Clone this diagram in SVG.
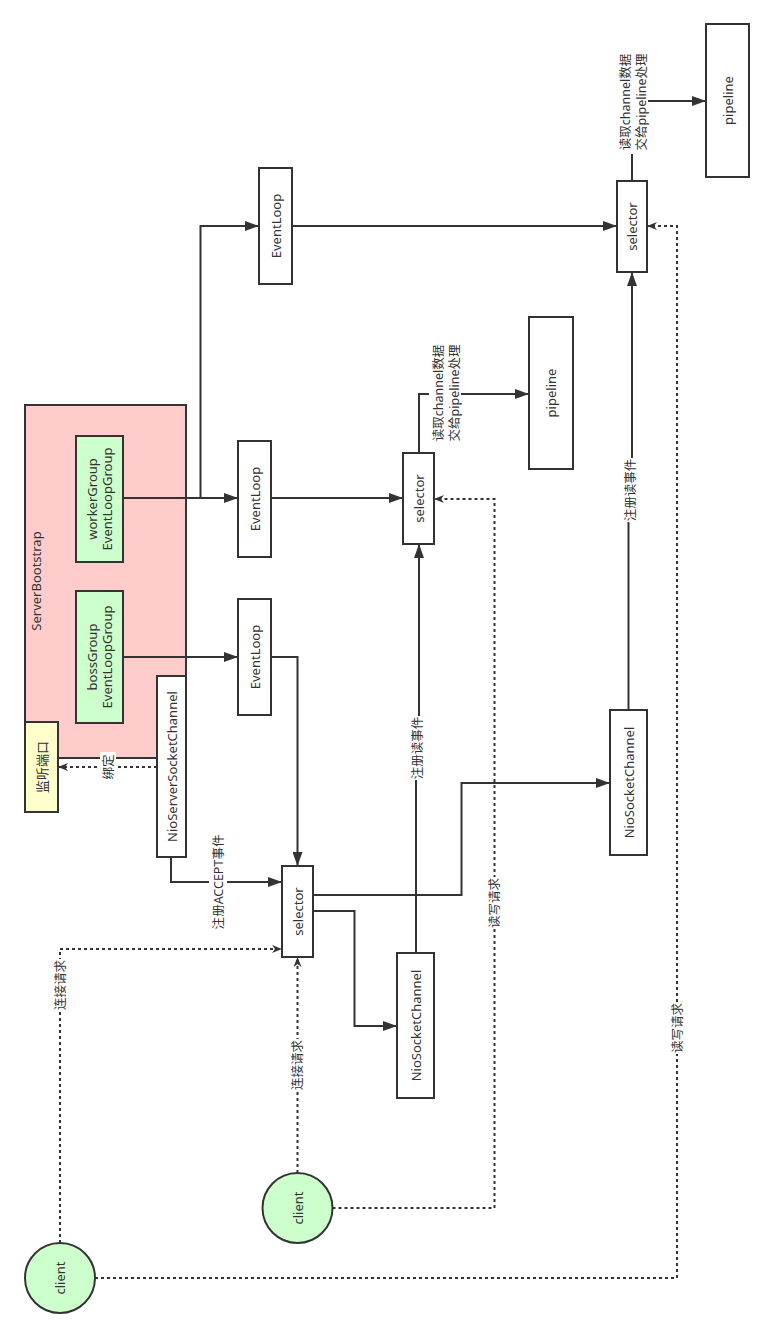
<svg xmlns="http://www.w3.org/2000/svg" width="774" height="1338" viewBox="0 0 774 1338">
<style>
  .box { stroke: #333333; stroke-width: 2; fill: #ffffff; }
  .pink { fill: #ffcccc; }
  .green { fill: #ccffcc; }
  .yellow { fill: #ffffcc; }
  .t { font-family: "Noto Sans", "Noto Sans CJK SC", sans-serif; font-size: 13px; fill: #333333; text-anchor: middle; dominant-baseline: central; }
  .lbl { font-family: "Noto Sans", "Noto Sans CJK SC", sans-serif; font-size: 12.5px; fill: #333333; text-anchor: middle; dominant-baseline: central; }
  .ln { fill: none; stroke: #333333; stroke-width: 2; }
  .solid { marker-end: url(#arr); }
  .dot { stroke-dasharray: 3 3; marker-end: url(#arrs); }
  .bg { fill: #ffffff; stroke: none; }
</style>
<defs>
  <marker id="arr" markerUnits="userSpaceOnUse" markerWidth="14" markerHeight="10" refX="14" refY="5" orient="auto">
    <path d="M0,0 L14,5 L0,10 Z" fill="#333333" stroke="none"/>
  </marker>
  <marker id="arrs" markerUnits="userSpaceOnUse" markerWidth="10" markerHeight="8" refX="10" refY="4" orient="auto">
    <path d="M0,0 L10,4 L0,8 L3,4 Z" fill="#333333" stroke="none"/>
  </marker>
</defs>
<rect width="774" height="1338" fill="#ffffff"/>

<g id="serverBootstrap">
  <rect class="box pink" x="25" y="405" width="161" height="353"/>
  <text class="t" transform="translate(36,581) rotate(-90)">ServerBootstrap</text>
</g>
<g id="workerGroup">
  <rect class="box green" x="76" y="436" width="47" height="126"/>
  <text class="t" transform="translate(99.5,499) rotate(-90)"><tspan x="0" y="-7.5">workerGroup</tspan><tspan x="0" y="7.5">EventLoopGroup</tspan></text>
</g>
<g id="bossGroup">
  <rect class="box green" x="76" y="591" width="47" height="132"/>
  <text class="t" transform="translate(99.5,657) rotate(-90)"><tspan x="0" y="-7.5">bossGroup</tspan><tspan x="0" y="7.5">EventLoopGroup</tspan></text>
</g>
<g id="listenPort">
  <rect class="box yellow" x="25" y="722" width="33" height="90"/>
  <text class="t" transform="translate(41.5,767) rotate(-90)">监听端口</text>
</g>
<g id="nioServerSocketChannel">
  <rect class="box" x="157" y="676" width="29" height="181"/>
  <text class="t" transform="translate(171.5,766.5) rotate(-90)">NioServerSocketChannel</text>
</g>
<g id="eventLoopBoss">
  <rect class="box" x="238" y="599" width="33" height="116"/>
  <text class="t" transform="translate(254.5,657) rotate(-90)">EventLoop</text>
</g>
<g id="eventLoopWorker1">
  <rect class="box" x="238" y="441" width="33" height="116"/>
  <text class="t" transform="translate(254.5,499) rotate(-90)">EventLoop</text>
</g>
<g id="eventLoopWorker2">
  <rect class="box" x="259" y="168" width="33" height="116"/>
  <text class="t" transform="translate(275.5,226) rotate(-90)">EventLoop</text>
</g>
<g id="selector1">
  <rect class="box" x="282" y="866" width="31" height="91"/>
  <text class="t" transform="translate(297.5,911.5) rotate(-90)">selector</text>
</g>
<g id="selector2">
  <rect class="box" x="403" y="453" width="31" height="91"/>
  <text class="t" transform="translate(418.5,498.5) rotate(-90)">selector</text>
</g>
<g id="selector3">
  <rect class="box" x="617" y="181" width="30" height="91"/>
  <text class="t" transform="translate(632,226.5) rotate(-90)">selector</text>
</g>
<g id="pipeline1">
  <rect class="box" x="529" y="317" width="44" height="152"/>
  <text class="t" transform="translate(551,393) rotate(-90)">pipeline</text>
</g>
<g id="pipeline2">
  <rect class="box" x="706" y="24" width="43" height="153"/>
  <text class="t" transform="translate(727.5,100.5) rotate(-90)">pipeline</text>
</g>
<g id="nioSocketChannel1">
  <rect class="box" x="397" y="953" width="37" height="145"/>
  <text class="t" transform="translate(415.5,1025.5) rotate(-90)">NioSocketChannel</text>
</g>
<g id="nioSocketChannel2">
  <rect class="box" x="610" y="710" width="37" height="145"/>
  <text class="t" transform="translate(628.5,782.5) rotate(-90)">NioSocketChannel</text>
</g>
<g id="client1">
  <circle class="box green" cx="60" cy="1278" r="35"/>
  <text class="t" transform="translate(60,1278) rotate(-90)">client</text>
</g>
<g id="client2">
  <circle class="box green" cx="297.5" cy="1208" r="35"/>
  <text class="t" transform="translate(297.5,1208) rotate(-90)">client</text>
</g>

<g id="connectors">
  <path class="ln solid" d="M123,498 H238"/>
  <path class="ln solid" d="M123,498 H200.5 V226 H259"/>
  <path class="ln solid" d="M123,657 H238"/>
  <path class="ln solid" d="M271,657 H297.5 V866"/>
  <path class="ln solid" d="M271,498 H403"/>
  <path class="ln solid" d="M292,226 H617"/>
  <path class="ln solid" d="M171,857 V882 H282"/>
  <path class="ln dot" d="M157,767 H58"/>
  <path class="ln solid" d="M313,911 H354.5 V1026 H397"/>
  <path class="ln solid" d="M313,895 H461.5 V783 H610"/>
  <path class="ln solid" d="M416,953 V748 H419 V544"/>
  <path class="ln solid" d="M628.5,710 V490 H632 V272"/>
  <path class="ln solid" d="M419,453 V394 H529"/>
  <path class="ln solid" d="M632,181 V101 H706"/>
  <path class="ln dot" d="M60,1243 V949 H282"/>
  <path class="ln dot" d="M297.5,1173 V957"/>
  <path class="ln dot" d="M332.5,1208 H494.5 V499 H434"/>
  <path class="ln dot" d="M95,1278 H677 V226 H647"/>

  <rect class="bg" x="209" y="834" width="18" height="96"/>
  <text class="lbl" transform="translate(218,882) rotate(-90)">注册ACCEPT事件</text>
  <rect class="bg" x="100" y="752" width="16" height="30"/>
  <text class="lbl" transform="translate(108,767) rotate(-90)">绑定</text>
  <rect class="bg" x="408" y="716" width="18" height="64"/>
  <text class="lbl" transform="translate(417,748) rotate(-90)">注册读事件</text>
  <rect class="bg" x="621" y="458" width="18" height="64"/>
  <text class="lbl" transform="translate(630,490) rotate(-90)">注册读事件</text>
  <rect class="bg" x="429" y="343" width="32" height="101"/>
  <text class="lbl" transform="translate(446,393) rotate(-90)"><tspan x="0" y="-8">读取channel数据</tspan><tspan x="0" y="8">交给pipeline处理</tspan></text>
  <rect class="bg" x="616" y="52" width="32" height="102"/>
  <text class="lbl" transform="translate(633,102) rotate(-90)"><tspan x="0" y="-8">读取channel数据</tspan><tspan x="0" y="8">交给pipeline处理</tspan></text>
  <rect class="bg" x="52" y="959" width="16" height="52"/>
  <text class="lbl" transform="translate(60,985) rotate(-90)">连接请求</text>
  <rect class="bg" x="289.5" y="1039" width="16" height="52"/>
  <text class="lbl" transform="translate(297.5,1065) rotate(-90)">连接请求</text>
  <rect class="bg" x="486.5" y="877" width="16" height="52"/>
  <text class="lbl" transform="translate(494.5,903) rotate(-90)">读写请求</text>
  <rect class="bg" x="669" y="1002" width="16" height="52"/>
  <text class="lbl" transform="translate(677,1028) rotate(-90)">读写请求</text>
</g>
</svg>
